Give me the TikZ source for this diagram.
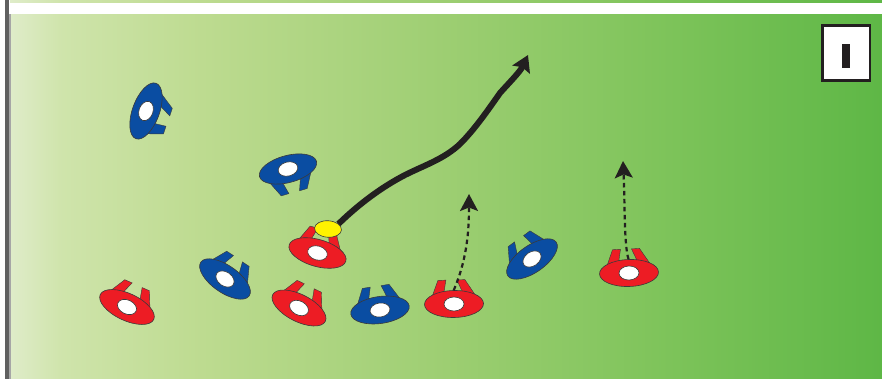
\documentclass[tikz,border=0pt]{standalone}
\usetikzlibrary{shapes.geometric,arrows.meta}
\definecolor{pred}{HTML}{ED1C24}
\definecolor{pblue}{HTML}{0A4DA2}
\definecolor{ink}{HTML}{231F20}
\definecolor{edgec}{HTML}{3A3A3A}
\definecolor{ballc}{HTML}{FFF200}
\definecolor{fa}{HTML}{DFECC9}
\definecolor{fb}{HTML}{CFE4AB}
\definecolor{fc}{HTML}{BDDB90}
\definecolor{fd}{HTML}{9DCE72}
\definecolor{fe}{HTML}{7FC45B}
\definecolor{ff}{HTML}{5EB746}
\pgfdeclarehorizontalshading{fieldgrad}{100bp}{color(0bp)=(fa);color(25bp)=(fa);color(28bp)=(fb);color(36bp)=(fc);color(50bp)=(fd);color(62bp)=(fe);color(75bp)=(ff);color(100bp)=(ff)}
\tikzset{
  bodyshape/.style={ellipse,draw=edgec,line width=0.6pt,inner sep=0pt,minimum width=59pt,minimum height=27pt,transform shape},
  holeshape/.style={ellipse,draw=edgec,fill=white,line width=0.6pt,inner sep=0pt,minimum width=20pt,minimum height=14pt,transform shape},
  footshape/.style={draw=edgec,line width=0.4pt,line join=miter},
  thinrun/.style={ink,line width=2.2pt,dash pattern=on 4.5pt off 3.5pt,-{Stealth[length=17pt,width=18pt,inset=3.5pt]}},
  mainrun/.style={ink,line width=6pt,-{Stealth[length=16pt,width=19pt,inset=2.5pt]}},
}
% name, x, y, angle, colour, lean of the feet
\newcommand{\playerfig}[6]{%
  \begin{scope}[shift={(#2,#3)},rotate=#4]
    \fill[#5,footshape] (-21.5,-8.5) -- ({-13.5+#6},-23.8) -- ({-5.5+#6},-24) -- (-10,-11) -- cycle;
    \fill[#5,footshape] ({5.5+#6},-24) -- ({13.5+#6},-24.2) -- (20.8,-9.5) -- (9,-11) -- cycle;
    \node[bodyshape,fill=#5] (#1) at (0,0) {};
    \node[holeshape] (#1h) at (0,0) {};
  \end{scope}}
\begin{document}
\begin{tikzpicture}[x=1pt,y=-1pt]
\useasboundingbox (0,0) rectangle (882,379);
\fill[white] (0,0) rectangle (882,379);
\shade[shading=fieldgrad] (10,0) rectangle (882,378.5);
\fill[white] (9,3) rectangle (882,14);
\fill[gray!75!black] (5,0) rectangle (9,379);
\fill[gray!70] (9,14) rectangle (10.5,379);

\node[draw=ink,fill=white,line width=2.5pt,minimum width=47.5pt,minimum height=55pt,inner sep=0pt] (badge) at (846,53) {};
\fill[ink] (842,44) rectangle (850,68);

\playerfig{bone}{146}{111}{-110}{pblue}{2}
\playerfig{btwo}{288}{169}{195}{pblue}{0}
\playerfig{bthree}{225}{279}{-35}{pblue}{-1}
\playerfig{bfour}{380}{310}{8}{pblue}{-1}
\playerfig{bfive}{532}{259}{35}{pblue}{1}
\playerfig{rone}{127}{307}{-25}{pred}{0}
\playerfig{rtwo}{299}{308}{-27}{pred}{-0.7}
\playerfig{rball}{317.5}{253}{-16}{pred}{-1}
\playerfig{rthree}{454}{304}{1}{pred}{-2.2}
\playerfig{rfour}{629}{273}{2}{pred}{-2.2}

\node[ellipse,fill=ballc,draw=edgec,line width=0.6pt,inner sep=0pt,minimum width=27pt,minimum height=16.5pt,rotate=-4] (ball) at (328,229) {};

\coordinate (mainend) at (528,55);
\coordinate (passa) at (469,194);
\coordinate (passb) at (623,161);

\draw[mainrun] (ball.30) .. controls (358,205) and (380,188) .. (405,175)
  .. controls (425,165) and (444,159) .. (460,144)
  .. controls (475,129) and (488,110) .. (500,93)
  .. controls (507,85) and (520,72) .. (mainend);
\draw[thinrun] (rthree.north) .. controls (463,268) and (469,245) .. (passa);
\draw[thinrun] (rfour.north) .. controls (624,245) and (625,205) .. (passb);
\end{tikzpicture}
\end{document}
